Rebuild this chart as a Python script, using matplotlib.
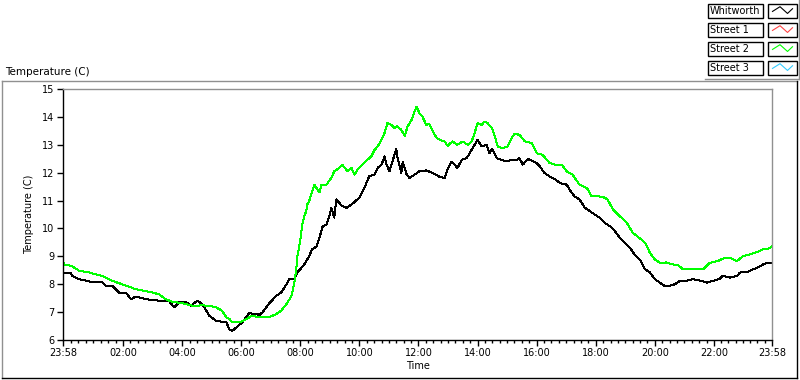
import matplotlib
matplotlib.use('Agg')
import matplotlib.pyplot as plt
from matplotlib.lines import Line2D
from matplotlib.patches import Rectangle

# time axis: minutes since 23:58 of the previous day
whit_t = [0, 16, 18, 33, 59, 79, 87, 100, 114, 128, 138, 148, 169, 189, 216, 226, 236, 250, 260, 273,
          283, 297, 311, 332, 338, 344, 352, 364, 378, 393, 399, 405, 419, 433, 443, 454, 460, 470, 476,
          490, 500, 506, 515, 521, 527, 535, 541, 545, 551, 555, 567, 576, 586, 596, 602, 612, 622, 633,
          639, 647, 653, 657, 663, 669, 677, 679, 687, 690, 698, 704, 714, 724, 738, 751, 765, 775, 781,
          789, 795, 801, 810, 820, 830, 836, 842, 850, 860, 866, 872, 881, 891, 901, 911, 921, 927, 934,
          944, 962, 968, 978, 988, 999, 1009, 1023, 1029, 1039, 1049, 1060, 1070, 1080, 1090, 1100, 1111,
          1121, 1131, 1141, 1151, 1161, 1172, 1182, 1192, 1202, 1212, 1222, 1233, 1243, 1253, 1267, 1279,
          1294, 1308, 1320, 1334, 1340, 1355, 1369, 1375, 1389, 1401, 1409, 1422, 1432, 1440]
whit_temp = [8.40, 8.40, 8.30, 8.18, 8.08, 8.08, 7.94, 7.94, 7.70, 7.70, 7.46, 7.56, 7.46, 7.42, 7.38, 7.17,
             7.35, 7.36, 7.23, 7.41, 7.29, 6.87, 6.69, 6.63, 6.37, 6.33, 6.45, 6.63, 6.96, 6.93, 6.90, 6.99,
             7.32, 7.58, 7.70, 8.00, 8.20, 8.20, 8.42, 8.71, 9.01, 9.25, 9.35, 9.67, 10.06, 10.14, 10.44,
             10.74, 10.39, 11.04, 10.80, 10.74, 10.86, 11.01, 11.10, 11.45, 11.87, 11.93, 12.17, 12.29,
             12.58, 12.29, 12.05, 12.40, 12.85, 12.58, 11.99, 12.40, 11.93, 11.81, 11.93, 12.05, 12.08,
             11.99, 11.85, 11.81, 12.11, 12.40, 12.29, 12.17, 12.46, 12.52, 12.82, 13.00, 13.18, 12.94,
             13.00, 12.70, 12.85, 12.52, 12.46, 12.40, 12.46, 12.44, 12.52, 12.29, 12.49, 12.35, 12.23,
             11.99, 11.87, 11.77, 11.63, 11.57, 11.39, 11.15, 11.04, 10.74, 10.62, 10.50, 10.38, 10.20,
             10.08, 9.90, 9.67, 9.49, 9.31, 9.07, 8.87, 8.54, 8.42, 8.18, 8.06, 7.94, 7.95, 8.00, 8.12,
             8.13, 8.18, 8.13, 8.06, 8.12, 8.20, 8.30, 8.24, 8.30, 8.42, 8.43, 8.54, 8.58, 8.71, 8.77, 8.77]

st2_t = [0, 2, 18, 33, 53, 79, 100, 120, 148, 175, 195, 209, 222, 242, 262, 283, 297, 311, 323, 332, 338,
         344, 358, 372, 384, 399, 419, 433, 443, 454, 464, 470, 474, 476, 480, 484, 486, 490, 494, 496,
         500, 504, 511, 517, 521, 525, 535, 545, 551, 561, 567, 578, 586, 592, 598, 608, 618, 626, 633,
         639, 647, 653, 659, 667, 673, 679, 687, 694, 700, 708, 714, 718, 724, 730, 738, 744, 751, 759,
         765, 775, 781, 791, 801, 812, 822, 830, 836, 842, 850, 856, 862, 871, 877, 883, 893, 903, 911,
         917, 927, 938, 952, 962, 974, 988, 999, 1013, 1023, 1035, 1049, 1064, 1074, 1084, 1096, 1106,
         1117, 1131, 1145, 1157, 1172, 1182, 1192, 1202, 1212, 1226, 1238, 1249, 1259, 1273, 1287, 1300,
         1314, 1330, 1340, 1355, 1369, 1381, 1395, 1409, 1422, 1432, 1440]
st2_temp = [8.83, 8.71, 8.65, 8.48, 8.42, 8.30, 8.12, 8.00, 7.82, 7.73, 7.64, 7.46, 7.37, 7.32, 7.23, 7.24,
            7.23, 7.17, 7.05, 6.81, 6.75, 6.63, 6.63, 6.75, 6.87, 6.81, 6.82, 6.93, 7.05, 7.29, 7.58, 8.06,
            8.60, 9.01, 9.37, 9.85, 10.14, 10.44, 10.62, 10.86, 10.98, 11.21, 11.57, 11.39, 11.30, 11.57,
            11.57, 11.81, 12.05, 12.17, 12.29, 12.05, 12.17, 11.93, 12.10, 12.29, 12.46, 12.58, 12.82,
            12.94, 13.18, 13.42, 13.78, 13.71, 13.60, 13.66, 13.54, 13.32, 13.66, 13.89, 14.19, 14.37,
            14.13, 14.01, 13.71, 13.75, 13.48, 13.24, 13.18, 13.12, 12.96, 13.12, 13.00, 13.12, 13.00,
            13.12, 13.42, 13.78, 13.71, 13.83, 13.78, 13.60, 13.30, 12.94, 12.88, 12.94, 13.24, 13.39,
            13.36, 13.12, 13.06, 12.70, 12.64, 12.35, 12.29, 12.29, 12.05, 11.93, 11.57, 11.45, 11.15,
            11.15, 11.14, 11.04, 10.68, 10.44, 10.20, 9.85, 9.64, 9.49, 9.13, 8.89, 8.77, 8.78, 8.71,
            8.69, 8.54, 8.53, 8.54, 8.53, 8.77, 8.83, 8.92, 8.95, 8.83, 9.01, 9.07, 9.15, 9.25, 9.27, 9.35]

series_names = ['Whitworth', 'Street 1', 'Street 2', 'Street 3']
series_colors = ['black', '#ff4444', '#00ff00', '#33ccff']

tick_minutes = [0, 122, 242, 362, 482, 602, 722, 842, 962, 1082, 1202, 1322, 1440]
tick_labels = ['23:58', '02:00', '04:00', '06:00', '08:00', '10:00', '12:00',
               '14:00', '16:00', '18:00', '20:00', '22:00', '23:58']
y_ticks = [6, 7, 8, 9, 10, 11, 12, 13, 14, 15]

plt.rcParams['font.family'] = 'DejaVu Sans'
plt.rcParams['font.size'] = 7

W, H = 800, 380
fig = plt.figure(figsize=(8, 3.8), dpi=100)
ax = fig.add_axes([63 / W, 1 - 340 / H, (772 - 63) / W, (340 - 89) / H])

ax.plot(whit_t, whit_temp, color=series_colors[0], lw=0.72, antialiased=False)
ax.plot(st2_t, st2_temp, color=series_colors[2], lw=0.72, antialiased=False)

ax.set_xlim(0, 1440)
ax.set_ylim(6, 15)
ax.set_yticks(y_ticks)
ax.set_xticks(tick_minutes)
ax.set_xticklabels(tick_labels)
minors = []
for a, b in zip(tick_minutes[:-1], tick_minutes[1:]):
    minors += [a + (b - a) * k / 8 for k in range(1, 8)]
ax.set_xticks(minors, minor=True)
ax.tick_params(axis='both', which='major', direction='out', length=4, width=1, pad=2)
ax.tick_params(axis='x', which='minor', direction='out', length=2.5, width=1)
ax.spines['top'].set_color('#909090')
ax.spines['right'].set_color('#909090')
for s in ax.spines.values():
    s.set_linewidth(1)
ax.set_xlabel('Time', labelpad=2)
ax.set_ylabel('Temperature (C)', labelpad=6)

fig.text(5 / W, 1 - 72 / H, 'Temperature (C)', ha='left', va='center', fontsize=7.5)

# outer frame
fig.add_artist(Line2D([2 / W, 797 / W], [1 - 80.5 / H] * 2, color='#909090', lw=1))
fig.add_artist(Line2D([2 / W] * 2, [1 - 80.5 / H, 1 - 378 / H], color='#909090', lw=1))
fig.add_artist(Line2D([2 / W, 797 / W], [1 - 378 / H] * 2, color='black', lw=1))
fig.add_artist(Line2D([797 / W] * 2, [1 - 80.5 / H, 1 - 378 / H], color='black', lw=1))

# legend boxes
zig = [(0.1, 0.45), (0.4, 0.8), (0.7, 0.3), (0.9, 0.65)]
for i, (name, col) in enumerate(zip(series_names, series_colors)):
    top = 4 + i * 19
    fig.add_artist(Rectangle((708 / W, 1 - (top + 13.5) / H), 55 / W, 13.5 / H,
                             fill=False, ec='black', lw=1))
    fig.text(710 / W, 1 - (top + 7) / H, name, ha='left', va='center', fontsize=7)
    fig.add_artist(Rectangle((768 / W, 1 - (top + 13.5) / H), 29 / W, 13.5 / H,
                             fill=False, ec='black', lw=1))
    xs = [(770 + p[0] * 25) / W for p in zig]
    ys = [1 - (top + 13.5 - p[1] * 13.5) / H for p in zig]
    fig.add_artist(Line2D(xs, ys, color=col, lw=0.8))
fig.add_artist(Line2D([705 / W, 799 / W], [1 - 79 / H] * 2, color='#909090', lw=1))
fig.add_artist(Line2D([799 / W] * 2, [1 - 79 / H, 1.0], color='#909090', lw=1))

fig.savefig('out.png', dpi=100)
